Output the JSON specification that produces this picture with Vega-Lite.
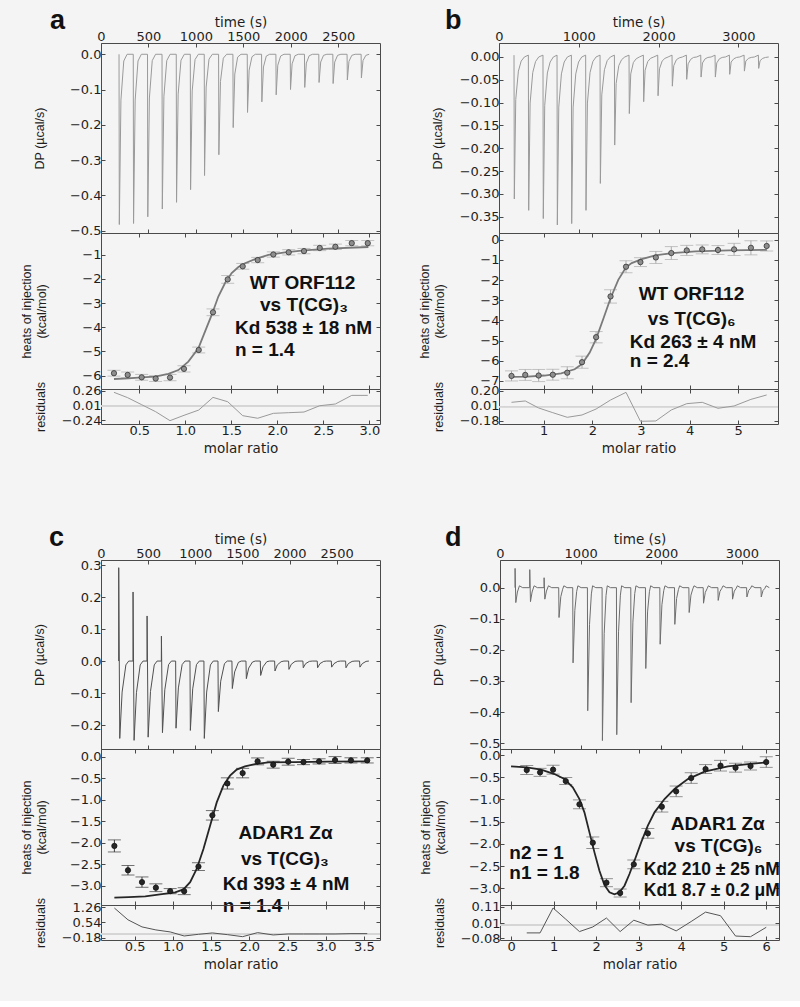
{
"$schema": "https://vega.github.io/schema/vega-lite/v6.json",
"padding": {"left": 19, "top": 6, "right": 19, "bottom": 30},
"background": "#f4f4f4",
"datasets": {
"dpA": [{"t":190,"dp":0},{"t":193,"dp":-0.483},{"t":210,"dp":-0.130},{"t":240,"dp":-0.019},{"t":275,"dp":0},
{"t":340,"dp":0},{"t":343,"dp":-0.480},{"t":360,"dp":-0.130},{"t":390,"dp":-0.019},{"t":425,"dp":0},
{"t":490,"dp":0},{"t":493,"dp":-0.461},{"t":510,"dp":-0.124},{"t":540,"dp":-0.018},{"t":575,"dp":0},
{"t":643,"dp":0},{"t":646,"dp":-0.439},{"t":663,"dp":-0.119},{"t":693,"dp":-0.018},{"t":728,"dp":0},
{"t":793,"dp":0},{"t":796,"dp":-0.420},{"t":813,"dp":-0.113},{"t":843,"dp":-0.017},{"t":878,"dp":0},
{"t":941,"dp":0},{"t":944,"dp":-0.384},{"t":961,"dp":-0.104},{"t":991,"dp":-0.015},{"t":1026,"dp":0},
{"t":1088,"dp":0},{"t":1091,"dp":-0.344},{"t":1108,"dp":-0.093},{"t":1138,"dp":-0.014},{"t":1173,"dp":0},
{"t":1239,"dp":0},{"t":1242,"dp":-0.285},{"t":1259,"dp":-0.077},{"t":1289,"dp":-0.011},{"t":1324,"dp":0},
{"t":1390,"dp":0},{"t":1393,"dp":-0.208},{"t":1410,"dp":-0.056},{"t":1440,"dp":-0.008},{"t":1475,"dp":0},
{"t":1541,"dp":0},{"t":1544,"dp":-0.165},{"t":1561,"dp":-0.045},{"t":1591,"dp":-0.007},{"t":1626,"dp":0},
{"t":1692,"dp":0},{"t":1695,"dp":-0.135},{"t":1712,"dp":-0.036},{"t":1742,"dp":-0.005},{"t":1777,"dp":0},
{"t":1843,"dp":0},{"t":1846,"dp":-0.115},{"t":1863,"dp":-0.031},{"t":1893,"dp":-0.005},{"t":1928,"dp":0},
{"t":1994,"dp":0},{"t":1997,"dp":-0.100},{"t":2014,"dp":-0.027},{"t":2044,"dp":-0.004},{"t":2079,"dp":0},
{"t":2144,"dp":0},{"t":2147,"dp":-0.094},{"t":2164,"dp":-0.025},{"t":2194,"dp":-0.004},{"t":2229,"dp":0},
{"t":2295,"dp":0},{"t":2298,"dp":-0.080},{"t":2315,"dp":-0.022},{"t":2345,"dp":-0.003},{"t":2380,"dp":0},
{"t":2443,"dp":0},{"t":2446,"dp":-0.083},{"t":2463,"dp":-0.022},{"t":2493,"dp":-0.003},{"t":2528,"dp":0},
{"t":2593,"dp":0},{"t":2596,"dp":-0.073},{"t":2613,"dp":-0.020},{"t":2643,"dp":-0.003},{"t":2678,"dp":0},
{"t":2741,"dp":0},{"t":2744,"dp":-0.067},{"t":2761,"dp":-0.018},{"t":2791,"dp":-0.003},{"t":2826,"dp":0}],
"dpB": [{"t":188,"dp":0.004},{"t":192,"dp":-0.311},{"t":210,"dp":-0.093},{"t":243,"dp":-0.031},{"t":278,"dp":-0.009},{"t":318,"dp":0},
{"t":368,"dp":0.004},{"t":372,"dp":-0.336},{"t":390,"dp":-0.101},{"t":423,"dp":-0.034},{"t":458,"dp":-0.010},{"t":498,"dp":0},
{"t":551,"dp":0.004},{"t":555,"dp":-0.354},{"t":573,"dp":-0.106},{"t":606,"dp":-0.035},{"t":641,"dp":-0.011},{"t":681,"dp":0},
{"t":727,"dp":0.004},{"t":731,"dp":-0.368},{"t":749,"dp":-0.110},{"t":782,"dp":-0.037},{"t":817,"dp":-0.011},{"t":857,"dp":0},
{"t":907,"dp":0.004},{"t":911,"dp":-0.365},{"t":929,"dp":-0.110},{"t":962,"dp":-0.037},{"t":997,"dp":-0.011},{"t":1037,"dp":0},
{"t":1086,"dp":0.004},{"t":1090,"dp":-0.336},{"t":1108,"dp":-0.101},{"t":1141,"dp":-0.034},{"t":1176,"dp":-0.010},{"t":1216,"dp":0},
{"t":1266,"dp":0.004},{"t":1270,"dp":-0.277},{"t":1288,"dp":-0.083},{"t":1321,"dp":-0.028},{"t":1356,"dp":-0.008},{"t":1396,"dp":0},
{"t":1446,"dp":0.004},{"t":1450,"dp":-0.193},{"t":1468,"dp":-0.058},{"t":1501,"dp":-0.019},{"t":1536,"dp":-0.006},{"t":1576,"dp":0},
{"t":1629,"dp":0.004},{"t":1633,"dp":-0.124},{"t":1651,"dp":-0.037},{"t":1684,"dp":-0.012},{"t":1719,"dp":-0.004},{"t":1759,"dp":0},
{"t":1809,"dp":0.004},{"t":1813,"dp":-0.098},{"t":1831,"dp":-0.029},{"t":1864,"dp":-0.010},{"t":1899,"dp":-0.003},{"t":1939,"dp":0},
{"t":1989,"dp":0.004},{"t":1993,"dp":-0.085},{"t":2011,"dp":-0.026},{"t":2044,"dp":-0.009},{"t":2079,"dp":-0.003},{"t":2119,"dp":0},
{"t":2168,"dp":0.004},{"t":2172,"dp":-0.064},{"t":2190,"dp":-0.019},{"t":2223,"dp":-0.006},{"t":2258,"dp":-0.002},{"t":2298,"dp":0},
{"t":2348,"dp":0.004},{"t":2352,"dp":-0.049},{"t":2370,"dp":-0.015},{"t":2403,"dp":-0.005},{"t":2438,"dp":-0.001},{"t":2478,"dp":0},
{"t":2528,"dp":0.004},{"t":2532,"dp":-0.044},{"t":2550,"dp":-0.013},{"t":2583,"dp":-0.004},{"t":2618,"dp":-0.001},{"t":2658,"dp":0},
{"t":2707,"dp":0.004},{"t":2711,"dp":-0.044},{"t":2729,"dp":-0.013},{"t":2762,"dp":-0.004},{"t":2797,"dp":-0.001},{"t":2837,"dp":0},
{"t":2887,"dp":0.004},{"t":2891,"dp":-0.038},{"t":2909,"dp":-0.011},{"t":2942,"dp":-0.004},{"t":2977,"dp":-0.001},{"t":3017,"dp":0},
{"t":3071,"dp":0.004},{"t":3075,"dp":-0.031},{"t":3093,"dp":-0.009},{"t":3126,"dp":-0.003},{"t":3161,"dp":-0.001},{"t":3201,"dp":0},
{"t":3250,"dp":0.004},{"t":3254,"dp":-0.025},{"t":3272,"dp":-0.008},{"t":3305,"dp":-0.003},{"t":3340,"dp":-0.001},{"t":3380,"dp":0}],
"dpC": [{"t":187,"dp":0},{"t":188,"dp":0.292},{"t":199,"dp":-0.242},{"t":224,"dp":-0.097},{"t":264,"dp":-0.012},{"t":294,"dp":0},
{"t":339,"dp":0},{"t":340,"dp":0.216},{"t":351,"dp":-0.248},{"t":376,"dp":-0.099},{"t":416,"dp":-0.012},{"t":446,"dp":0},
{"t":488,"dp":0},{"t":489,"dp":0.141},{"t":500,"dp":-0.238},{"t":525,"dp":-0.095},{"t":565,"dp":-0.012},{"t":595,"dp":0},
{"t":640,"dp":0},{"t":641,"dp":0.078},{"t":652,"dp":-0.224},{"t":677,"dp":-0.090},{"t":717,"dp":-0.011},{"t":747,"dp":0},
{"t":792,"dp":0},{"t":796,"dp":-0.210},{"t":821,"dp":-0.084},{"t":861,"dp":-0.011},{"t":891,"dp":0},
{"t":944,"dp":0},{"t":948,"dp":-0.217},{"t":973,"dp":-0.087},{"t":1013,"dp":-0.011},{"t":1043,"dp":0},
{"t":1092,"dp":0},{"t":1096,"dp":-0.242},{"t":1121,"dp":-0.097},{"t":1161,"dp":-0.012},{"t":1191,"dp":0},
{"t":1241,"dp":0},{"t":1245,"dp":-0.158},{"t":1270,"dp":-0.063},{"t":1310,"dp":-0.008},{"t":1340,"dp":0},
{"t":1389,"dp":0},{"t":1393,"dp":-0.086},{"t":1418,"dp":-0.034},{"t":1458,"dp":-0.004},{"t":1488,"dp":0},
{"t":1538,"dp":0},{"t":1542,"dp":-0.055},{"t":1567,"dp":-0.022},{"t":1607,"dp":-0.003},{"t":1637,"dp":0},
{"t":1690,"dp":0},{"t":1694,"dp":-0.045},{"t":1719,"dp":-0.018},{"t":1759,"dp":-0.002},{"t":1789,"dp":0},
{"t":1842,"dp":0},{"t":1846,"dp":-0.031},{"t":1871,"dp":-0.012},{"t":1911,"dp":-0.002},{"t":1941,"dp":0},
{"t":1990,"dp":0},{"t":1994,"dp":-0.026},{"t":2019,"dp":-0.010},{"t":2059,"dp":-0.001},{"t":2089,"dp":0},
{"t":2142,"dp":0},{"t":2146,"dp":-0.021},{"t":2171,"dp":-0.008},{"t":2211,"dp":-0.001},{"t":2241,"dp":0},
{"t":2294,"dp":0},{"t":2298,"dp":-0.021},{"t":2323,"dp":-0.008},{"t":2363,"dp":-0.001},{"t":2393,"dp":0},
{"t":2443,"dp":0},{"t":2447,"dp":-0.019},{"t":2472,"dp":-0.008},{"t":2512,"dp":-0.001},{"t":2542,"dp":0},
{"t":2595,"dp":0},{"t":2599,"dp":-0.021},{"t":2624,"dp":-0.008},{"t":2664,"dp":-0.001},{"t":2694,"dp":0},
{"t":2743,"dp":0},{"t":2747,"dp":-0.019},{"t":2772,"dp":-0.008},{"t":2812,"dp":-0.001},{"t":2842,"dp":0}],
"dpD": [{"t":186,"dp":0},{"t":187,"dp":0.062},{"t":196,"dp":-0.048},{"t":216,"dp":-0.014},{"t":241,"dp":0.006},{"t":281,"dp":0},
{"t":368,"dp":0},{"t":369,"dp":0.058},{"t":378,"dp":-0.045},{"t":398,"dp":-0.014},{"t":423,"dp":0.006},{"t":463,"dp":0},
{"t":546,"dp":0},{"t":547,"dp":0.032},{"t":556,"dp":-0.037},{"t":576,"dp":-0.011},{"t":601,"dp":0.006},{"t":641,"dp":0},
{"t":728,"dp":0},{"t":732,"dp":-0.096},{"t":754,"dp":-0.029},{"t":777,"dp":-0.005},{"t":792,"dp":0.006},{"t":832,"dp":0},
{"t":902,"dp":0},{"t":906,"dp":-0.242},{"t":928,"dp":-0.073},{"t":951,"dp":-0.012},{"t":966,"dp":0.006},{"t":1006,"dp":0},
{"t":1084,"dp":0},{"t":1088,"dp":-0.396},{"t":1110,"dp":-0.119},{"t":1133,"dp":-0.020},{"t":1148,"dp":0.006},{"t":1188,"dp":0},
{"t":1266,"dp":0},{"t":1270,"dp":-0.492},{"t":1292,"dp":-0.148},{"t":1315,"dp":-0.025},{"t":1330,"dp":0.006},{"t":1370,"dp":0},
{"t":1444,"dp":0},{"t":1448,"dp":-0.473},{"t":1470,"dp":-0.142},{"t":1493,"dp":-0.024},{"t":1508,"dp":0.006},{"t":1548,"dp":0},
{"t":1622,"dp":0},{"t":1626,"dp":-0.370},{"t":1648,"dp":-0.111},{"t":1671,"dp":-0.019},{"t":1686,"dp":0.006},{"t":1726,"dp":0},
{"t":1804,"dp":0},{"t":1808,"dp":-0.260},{"t":1830,"dp":-0.078},{"t":1853,"dp":-0.013},{"t":1868,"dp":0.006},{"t":1908,"dp":0},
{"t":1982,"dp":0},{"t":1986,"dp":-0.182},{"t":2008,"dp":-0.055},{"t":2031,"dp":-0.009},{"t":2046,"dp":0.006},{"t":2086,"dp":0},
{"t":2164,"dp":0},{"t":2168,"dp":-0.118},{"t":2190,"dp":-0.035},{"t":2213,"dp":-0.006},{"t":2228,"dp":0.006},{"t":2268,"dp":0},
{"t":2342,"dp":0},{"t":2346,"dp":-0.080},{"t":2368,"dp":-0.024},{"t":2391,"dp":-0.004},{"t":2406,"dp":0.006},{"t":2446,"dp":0},
{"t":2520,"dp":0},{"t":2524,"dp":-0.050},{"t":2546,"dp":-0.015},{"t":2569,"dp":-0.003},{"t":2584,"dp":0.006},{"t":2624,"dp":0},
{"t":2702,"dp":0},{"t":2706,"dp":-0.041},{"t":2728,"dp":-0.012},{"t":2751,"dp":-0.002},{"t":2766,"dp":0.006},{"t":2806,"dp":0},
{"t":2880,"dp":0},{"t":2884,"dp":-0.037},{"t":2906,"dp":-0.011},{"t":2929,"dp":-0.002},{"t":2944,"dp":0.006},{"t":2984,"dp":0},
{"t":3058,"dp":0},{"t":3062,"dp":-0.030},{"t":3084,"dp":-0.009},{"t":3107,"dp":-0.002},{"t":3122,"dp":0.006},{"t":3162,"dp":0},
{"t":3236,"dp":0},{"t":3240,"dp":-0.030},{"t":3262,"dp":-0.009},{"t":3285,"dp":-0.002},{"t":3300,"dp":0.006},{"t":3340,"dp":0}],
"hA": [{"v":0.225,"h":-5.90,"lo":-6.02,"hi":-5.78,"r":0.232},
{"v":0.374,"h":-5.97,"lo":-6.09,"hi":-5.85,"r":0.141},
{"v":0.526,"h":-6.07,"lo":-6.19,"hi":-5.95,"r":0.021},
{"v":0.678,"h":-6.12,"lo":-6.24,"hi":-6.00,"r":-0.098},
{"v":0.834,"h":-6.08,"lo":-6.21,"hi":-5.95,"r":-0.251},
{"v":0.986,"h":-5.72,"lo":-5.85,"hi":-5.59,"r":-0.160},
{"v":1.146,"h":-4.94,"lo":-5.06,"hi":-4.82,"r":-0.070},
{"v":1.301,"h":-3.38,"lo":-3.52,"hi":-3.24,"r":0.146},
{"v":1.461,"h":-2.02,"lo":-2.18,"hi":-1.86,"r":0.072},
{"v":1.624,"h":-1.48,"lo":-1.60,"hi":-1.36,"r":-0.166},
{"v":1.787,"h":-1.22,"lo":-1.33,"hi":-1.11,"r":-0.210},
{"v":1.957,"h":-0.99,"lo":-1.10,"hi":-0.88,"r":-0.126},
{"v":2.124,"h":-0.90,"lo":-1.01,"hi":-0.79,"r":-0.115},
{"v":2.290,"h":-0.85,"lo":-0.96,"hi":-0.74,"r":-0.104},
{"v":2.461,"h":-0.72,"lo":-0.83,"hi":-0.61,"r":0.004},
{"v":2.631,"h":-0.67,"lo":-0.78,"hi":-0.56,"r":0.033},
{"v":2.809,"h":-0.52,"lo":-0.63,"hi":-0.41,"r":0.180},
{"v":2.983,"h":-0.52,"lo":-0.63,"hi":-0.41,"r":0.180}],
"hB": [{"v":0.337,"h":-6.75,"lo":-7.00,"hi":-6.50,"r":0.054},
{"v":0.620,"h":-6.70,"lo":-6.97,"hi":-6.43,"r":0.071},
{"v":0.896,"h":-6.73,"lo":-7.03,"hi":-6.43,"r":-0.017},
{"v":1.187,"h":-6.69,"lo":-6.96,"hi":-6.42,"r":-0.076},
{"v":1.484,"h":-6.59,"lo":-6.89,"hi":-6.29,"r":-0.134},
{"v":1.788,"h":-6.07,"lo":-6.37,"hi":-5.77,"r":-0.105},
{"v":2.078,"h":-4.83,"lo":-5.11,"hi":-4.55,"r":-0.030},
{"v":2.375,"h":-2.81,"lo":-3.14,"hi":-2.48,"r":0.083},
{"v":2.693,"h":-1.34,"lo":-1.64,"hi":-1.04,"r":0.179},
{"v":2.990,"h":-1.11,"lo":-1.33,"hi":-0.89,"r":-0.184},
{"v":3.307,"h":-0.88,"lo":-1.18,"hi":-0.58,"r":-0.180},
{"v":3.625,"h":-0.66,"lo":-0.98,"hi":-0.34,"r":-0.042},
{"v":3.943,"h":-0.53,"lo":-0.78,"hi":-0.28,"r":0.037},
{"v":4.261,"h":-0.48,"lo":-0.70,"hi":-0.26,"r":0.054},
{"v":4.585,"h":-0.51,"lo":-0.73,"hi":-0.29,"r":-0.021},
{"v":4.917,"h":-0.48,"lo":-0.78,"hi":-0.18,"r":0.008},
{"v":5.263,"h":-0.40,"lo":-0.75,"hi":-0.05,"r":0.091},
{"v":5.587,"h":-0.31,"lo":-0.56,"hi":-0.06,"r":0.146}],
"hC": [{"v":0.235,"h":-2.07,"lo":-2.21,"hi":-1.93,"r":1.213},
{"v":0.413,"h":-2.635,"lo":-2.745,"hi":-2.525,"r":0.659},
{"v":0.596,"h":-2.91,"lo":-3.03,"hi":-2.79,"r":0.326},
{"v":0.778,"h":-3.04,"lo":-3.13,"hi":-2.95,"r":0.184},
{"v":0.965,"h":-3.12,"lo":-3.18,"hi":-3.06,"r":0.089},
{"v":1.148,"h":-3.12,"lo":-3.20,"hi":-3.04,"r":-0.101},
{"v":1.335,"h":-2.55,"lo":-2.64,"hi":-2.46,"r":-0.022},
{"v":1.517,"h":-1.36,"lo":-1.47,"hi":-1.25,"r":0.042},
{"v":1.713,"h":-0.62,"lo":-0.75,"hi":-0.49,"r":-0.038},
{"v":1.913,"h":-0.38,"lo":-0.49,"hi":-0.27,"r":-0.133},
{"v":2.109,"h":-0.108,"lo":-0.188,"hi":-0.028,"r":0.057},
{"v":2.313,"h":-0.185,"lo":-0.265,"hi":-0.105,"r":-0.053},
{"v":2.509,"h":-0.116,"lo":-0.196,"hi":-0.036,"r":-0.006},
{"v":2.709,"h":-0.124,"lo":-0.184,"hi":-0.064,"r":-0.006},
{"v":2.913,"h":-0.108,"lo":-0.168,"hi":-0.048,"r":-0.006},
{"v":3.122,"h":-0.077,"lo":-0.157,"hi":0.003,"r":-0.006},
{"v":3.330,"h":-0.085,"lo":-0.145,"hi":-0.025,"r":0.010},
{"v":3.543,"h":-0.085,"lo":-0.145,"hi":-0.025,"r":0.010}],
"hD": [{"v":0.369,"h":-0.338,"lo":-0.438,"hi":-0.238,"r":-0.047},
{"v":0.682,"h":-0.390,"lo":-0.480,"hi":-0.300,"r":-0.047},
{"v":0.988,"h":-0.330,"lo":-0.430,"hi":-0.230,"r":0.104},
{"v":1.286,"h":-0.586,"lo":-0.666,"hi":-0.506,"r":0.036},
{"v":1.608,"h":-1.110,"lo":-1.210,"hi":-1.010,"r":-0.039},
{"v":1.922,"h":-1.975,"lo":-2.105,"hi":-1.845,"r":-0.011},
{"v":2.243,"h":-2.875,"lo":-2.965,"hi":-2.785,"r":0.043},
{"v":2.565,"h":-3.108,"lo":-3.198,"hi":-3.018,"r":-0.039},
{"v":2.886,"h":-2.462,"lo":-2.562,"hi":-2.362,"r":0.030},
{"v":3.216,"h":-1.764,"lo":-1.874,"hi":-1.654,"r":0.000},
{"v":3.545,"h":-1.164,"lo":-1.284,"hi":-1.044,"r":0.006},
{"v":3.882,"h":-0.818,"lo":-0.938,"hi":-0.698,"r":-0.035},
{"v":4.235,"h":-0.518,"lo":-0.638,"hi":-0.398,"r":0.022},
{"v":4.573,"h":-0.315,"lo":-0.415,"hi":-0.215,"r":0.079},
{"v":4.925,"h":-0.240,"lo":-0.360,"hi":-0.120,"r":0.057},
{"v":5.278,"h":-0.285,"lo":-0.385,"hi":-0.185,"r":-0.066},
{"v":5.631,"h":-0.248,"lo":-0.338,"hi":-0.158,"r":-0.070},
{"v":6.000,"h":-0.158,"lo":-0.278,"hi":-0.038,"r":-0.013}],
"fA": [{"v":0.225,"f":-6.14},{"v":0.381,"f":-6.11},{"v":0.526,"f":-6.07},{"v":0.671,"f":-6.04},{"v":0.816,"f":-5.93},{"v":0.925,"f":-5.77},{"v":1.033,"f":-5.42},{"v":1.142,"f":-4.87},{"v":1.214,"f":-4.18},{"v":1.287,"f":-3.49},{"v":1.359,"f":-2.73},{"v":1.432,"f":-2.17},{"v":1.504,"f":-1.76},{"v":1.577,"f":-1.51},{"v":1.649,"f":-1.35},{"v":1.758,"f":-1.18},{"v":1.903,"f":-1.01},{"v":2.084,"f":-0.90},{"v":2.265,"f":-0.83},{"v":2.555,"f":-0.75},{"v":2.990,"f":-0.68}],
"fB": [{"v":0.337,"f":-6.80},{"v":0.668,"f":-6.78},{"v":1.014,"f":-6.73},{"v":1.359,"f":-6.62},{"v":1.636,"f":-6.42},{"v":1.788,"f":-6.16},{"v":1.946,"f":-5.59},{"v":2.078,"f":-4.91},{"v":2.223,"f":-3.94},{"v":2.375,"f":-2.90},{"v":2.534,"f":-1.99},{"v":2.693,"f":-1.37},{"v":2.810,"f":-1.16},{"v":3.017,"f":-0.96},{"v":3.294,"f":-0.78},{"v":3.639,"f":-0.66},{"v":4.123,"f":-0.58},{"v":4.813,"f":-0.53},{"v":5.587,"f":-0.50}],
"fC": [{"v":0.235,"f":-3.27},{"v":0.422,"f":-3.26},{"v":0.639,"f":-3.24},{"v":0.857,"f":-3.19},{"v":1.030,"f":-3.15},{"v":1.139,"f":-3.08},{"v":1.226,"f":-2.91},{"v":1.313,"f":-2.60},{"v":1.400,"f":-2.14},{"v":1.487,"f":-1.60},{"v":1.574,"f":-1.06},{"v":1.661,"f":-0.67},{"v":1.748,"f":-0.44},{"v":1.835,"f":-0.30},{"v":1.943,"f":-0.224},{"v":2.074,"f":-0.17},{"v":2.248,"f":-0.131},{"v":2.596,"f":-0.124},{"v":3.030,"f":-0.116},{"v":3.543,"f":-0.108}],
"fD": [{"v":0.000,"f":-0.255},{"v":0.369,"f":-0.278},{"v":0.706,"f":-0.330},{"v":1.020,"f":-0.428},{"v":1.255,"f":-0.540},{"v":1.451,"f":-0.728},{"v":1.608,"f":-0.991},{"v":1.725,"f":-1.291},{"v":1.843,"f":-1.742},{"v":1.961,"f":-2.192},{"v":2.078,"f":-2.605},{"v":2.196,"f":-2.928},{"v":2.314,"f":-3.093},{"v":2.431,"f":-3.138},{"v":2.549,"f":-3.093},{"v":2.667,"f":-2.943},{"v":2.784,"f":-2.680},{"v":2.902,"f":-2.380},{"v":3.059,"f":-1.967},{"v":3.216,"f":-1.592},{"v":3.373,"f":-1.291},{"v":3.608,"f":-0.991},{"v":3.843,"f":-0.766},{"v":4.157,"f":-0.541},{"v":4.549,"f":-0.375},{"v":5.098,"f":-0.255},{"v":5.569,"f":-0.203},{"v":6.000,"f":-0.165}]
},
"vconcat": [
{"hconcat": [
{"vconcat": [
{"width": 279, "height": 190,
 "title": {"text": "a", "dx": -51, "dy": 45, "baseline": "alphabetic"},
 "data": {"name": "dpA"},
 "layer": [
  {"mark": {"type": "line", "color": "#9a9a9a", "strokeWidth": 1},
   "encoding": {
    "x": {"field": "t", "type": "quantitative", "scale": {"domain": [0, 2940], "nice": false, "zero": false}, "axis": {"orient": "top", "title": "time (s)", "values": [0, 500, 1000, 1500, 2000, 2500], "format": "d", "titlePadding": 1}},
    "y": {"field": "dp", "type": "quantitative", "scale": {"domain": [-0.507, 0.032], "nice": false, "zero": false}, "axis": {"orient": "left", "title": "DP (µcal/s)", "values": [-0.5, -0.4, -0.3, -0.2, -0.1, 0], "format": ".1f", "titlePadding": 23}}}},
  {"mark": {"type": "line", "opacity": 0},
   "encoding": {
    "x": {"field": "t", "type": "quantitative", "scale": {"domain": [0, 2940], "nice": false, "zero": false}, "axis": {"orient": "bottom", "labels": false, "title": null, "values": [0, 500, 1000, 1500, 2000, 2500]}},
    "y": {"field": "dp", "type": "quantitative", "scale": {"domain": [-0.507, 0.032], "nice": false, "zero": false}, "axis": {"orient": "right", "labels": false, "title": null, "values": [-0.5, -0.4, -0.3, -0.2, -0.1, 0]}}}}
 ],
 "resolve": {"axis": {"x": "independent", "y": "independent"}}},
{"width": 279, "height": 156,
 "data": {"name": "hA"},
 "layer": [
  {"mark": {"type": "rule", "color": "#ababab", "strokeWidth": 1},
   "encoding": {
    "x": {"field": "v", "type": "quantitative", "scale": {"domain": [0.084, 3.116], "nice": false, "zero": false}, "axis": {"orient": "bottom", "labels": false, "title": null, "values": [0.5, 1, 1.5, 2, 2.5, 3]}},
    "y": {"field": "lo", "type": "quantitative", "scale": {"domain": [-6.553, -0.101], "nice": false, "zero": false}, "axis": {"orient": "left", "title": ["heats of injection", "(kcal/mol)"], "values": [-6, -5, -4, -3, -2, -1], "titlePadding": 33}},
    "y2": {"field": "hi"}}},
  {"mark": {"type": "tick", "orient": "horizontal", "color": "#ababab", "size": 13, "thickness": 1},
   "encoding": {
    "x": {"field": "v", "type": "quantitative", "scale": {"domain": [0.084, 3.116], "nice": false, "zero": false}, "axis": {"orient": "top", "labels": false, "title": null, "values": [0.5, 1, 1.5, 2, 2.5, 3]}},
    "y": {"field": "lo", "type": "quantitative", "scale": {"domain": [-6.553, -0.101], "nice": false, "zero": false}, "axis": {"orient": "right", "labels": false, "title": null, "values": [-6, -5, -4, -3, -2, -1]}}}},
  {"mark": {"type": "tick", "orient": "horizontal", "color": "#ababab", "size": 13, "thickness": 1},
   "encoding": {
    "x": {"field": "v", "type": "quantitative", "scale": {"domain": [0.084, 3.116], "nice": false, "zero": false}, "axis": null},
    "y": {"field": "hi", "type": "quantitative", "scale": {"domain": [-6.553, -0.101], "nice": false, "zero": false}, "axis": null}}},
  {"data": {"name": "fA"}, "mark": {"type": "line", "color": "#7a7a7a", "strokeWidth": 1.8},
   "encoding": {
    "x": {"field": "v", "type": "quantitative", "scale": {"domain": [0.084, 3.116], "nice": false, "zero": false}, "axis": null},
    "y": {"field": "f", "type": "quantitative", "scale": {"domain": [-6.553, -0.101], "nice": false, "zero": false}, "axis": null}}},
  {"mark": {"type": "circle", "size": 28, "fill": "#8e8e8e", "stroke": "#333333", "strokeWidth": 0.8, "opacity": 1},
   "encoding": {
    "x": {"field": "v", "type": "quantitative", "scale": {"domain": [0.084, 3.116], "nice": false, "zero": false}, "axis": null},
    "y": {"field": "h", "type": "quantitative", "scale": {"domain": [-6.553, -0.101], "nice": false, "zero": false}, "axis": null}}},
  {"data": {"values": [{"label": "WT ORF112", "x": 2.274, "y": -2.409}, {"label": "vs T(CG)₃", "x": 2.29, "y": -3.32}]},
   "mark": {"type": "text", "align": "center"},
   "encoding": {
    "x": {"field": "x", "type": "quantitative", "scale": {"domain": [0.084, 3.116], "nice": false, "zero": false}, "axis": null},
    "y": {"field": "y", "type": "quantitative", "scale": {"domain": [-6.553, -0.101], "nice": false, "zero": false}, "axis": null},
    "text": {"field": "label"}}},
  {"data": {"values": [{"label": "Kd 538 ± 18 nM", "x": 1.54, "y": -4.286}, {"label": "n = 1.4", "x": 1.54, "y": -5.186}]},
   "mark": {"type": "text", "align": "left"},
   "encoding": {
    "x": {"field": "x", "type": "quantitative", "scale": {"domain": [0.084, 3.116], "nice": false, "zero": false}, "axis": null},
    "y": {"field": "y", "type": "quantitative", "scale": {"domain": [-6.553, -0.101], "nice": false, "zero": false}, "axis": null},
    "text": {"field": "label"}}}
 ],
 "resolve": {"axis": {"x": "independent", "y": "independent"}}},
{"width": 279, "height": 35,
 "data": {"name": "hA"},
 "layer": [
  {"mark": {"type": "rule", "color": "#d5d5d5", "strokeWidth": 1},
   "encoding": {"y": {"datum": 0, "type": "quantitative", "scale": {"domain": [-0.308, 0.289], "nice": false, "zero": false}, "axis": {"orient": "right", "labels": false, "title": null, "values": [-0.24, 0.01, 0.26]}}}},
  {"mark": {"type": "line", "color": "#9a9a9a", "strokeWidth": 1},
   "encoding": {
    "x": {"field": "v", "type": "quantitative", "scale": {"domain": [0.084, 3.116], "nice": false, "zero": false}, "axis": {"orient": "bottom", "title": "molar ratio", "values": [0.5, 1, 1.5, 2, 2.5, 3], "format": ".1f", "titlePadding": 4}},
    "y": {"field": "r", "type": "quantitative", "scale": {"domain": [-0.308, 0.289], "nice": false, "zero": false}, "axis": {"orient": "left", "title": "residuals", "values": [-0.24, 0.01, 0.26], "format": ".2f", "titlePadding": 14}}}},
  {"mark": {"type": "line", "opacity": 0},
   "encoding": {
    "x": {"field": "v", "type": "quantitative", "scale": {"domain": [0.084, 3.116], "nice": false, "zero": false}, "axis": {"orient": "top", "labels": false, "title": null, "values": [0.5, 1, 1.5, 2, 2.5, 3]}},
    "y": {"field": "r", "type": "quantitative", "scale": {"domain": [-0.308, 0.289], "nice": false, "zero": false}, "axis": null}}}
 ],
 "resolve": {"axis": {"x": "independent", "y": "independent"}}}
], "spacing": 0, "bounds": "flush"},
{"vconcat": [
{"width": 279, "height": 190,
 "title": {"text": "b", "dx": -54, "dy": 45, "baseline": "alphabetic"},
 "data": {"name": "dpB"},
 "layer": [
  {"mark": {"type": "line", "color": "#9a9a9a", "strokeWidth": 1},
   "encoding": {
    "x": {"field": "t", "type": "quantitative", "scale": {"domain": [0, 3496], "nice": false, "zero": false}, "axis": {"orient": "top", "title": "time (s)", "values": [0, 1000, 2000, 3000], "format": "d", "titlePadding": 1}},
    "y": {"field": "dp", "type": "quantitative", "scale": {"domain": [-0.3856, 0.0306], "nice": false, "zero": false}, "axis": {"orient": "left", "title": "DP (µcal/s)", "values": [-0.35, -0.3, -0.25, -0.2, -0.15, -0.1, -0.05, 0], "format": ".2f", "titlePadding": 15}}}},
  {"mark": {"type": "line", "opacity": 0},
   "encoding": {
    "x": {"field": "t", "type": "quantitative", "scale": {"domain": [0, 3496], "nice": false, "zero": false}, "axis": {"orient": "bottom", "labels": false, "title": null, "values": [0, 1000, 2000, 3000]}},
    "y": {"field": "dp", "type": "quantitative", "scale": {"domain": [-0.3856, 0.0306], "nice": false, "zero": false}, "axis": {"orient": "right", "labels": false, "title": null, "values": [-0.35, -0.3, -0.25, -0.2, -0.15, -0.1, -0.05, 0]}}}}
 ],
 "resolve": {"axis": {"x": "independent", "y": "independent"}}},
{"width": 279, "height": 156,
 "data": {"name": "hB"},
 "layer": [
  {"mark": {"type": "rule", "color": "#ababab", "strokeWidth": 1},
   "encoding": {
    "x": {"field": "v", "type": "quantitative", "scale": {"domain": [0.08, 5.82], "nice": false, "zero": false}, "axis": {"orient": "bottom", "labels": false, "title": null, "values": [1, 2, 3, 4, 5]}},
    "y": {"field": "lo", "type": "quantitative", "scale": {"domain": [-7.398, 0.333], "nice": false, "zero": false}, "axis": {"orient": "left", "title": ["heats of injection", "(kcal/mol)"], "values": [-7, -6, -5, -4, -3, -2, -1, 0], "titlePadding": 33}},
    "y2": {"field": "hi"}}},
  {"mark": {"type": "tick", "orient": "horizontal", "color": "#ababab", "size": 13, "thickness": 1},
   "encoding": {
    "x": {"field": "v", "type": "quantitative", "scale": {"domain": [0.08, 5.82], "nice": false, "zero": false}, "axis": {"orient": "top", "labels": false, "title": null, "values": [1, 2, 3, 4, 5]}},
    "y": {"field": "lo", "type": "quantitative", "scale": {"domain": [-7.398, 0.333], "nice": false, "zero": false}, "axis": {"orient": "right", "labels": false, "title": null, "values": [-7, -6, -5, -4, -3, -2, -1, 0]}}}},
  {"mark": {"type": "tick", "orient": "horizontal", "color": "#ababab", "size": 13, "thickness": 1},
   "encoding": {
    "x": {"field": "v", "type": "quantitative", "scale": {"domain": [0.08, 5.82], "nice": false, "zero": false}, "axis": null},
    "y": {"field": "hi", "type": "quantitative", "scale": {"domain": [-7.398, 0.333], "nice": false, "zero": false}, "axis": null}}},
  {"data": {"name": "fB"}, "mark": {"type": "line", "color": "#7a7a7a", "strokeWidth": 1.8},
   "encoding": {
    "x": {"field": "v", "type": "quantitative", "scale": {"domain": [0.08, 5.82], "nice": false, "zero": false}, "axis": null},
    "y": {"field": "f", "type": "quantitative", "scale": {"domain": [-7.398, 0.333], "nice": false, "zero": false}, "axis": null}}},
  {"mark": {"type": "circle", "size": 28, "fill": "#8e8e8e", "stroke": "#333333", "strokeWidth": 0.8, "opacity": 1},
   "encoding": {
    "x": {"field": "v", "type": "quantitative", "scale": {"domain": [0.08, 5.82], "nice": false, "zero": false}, "axis": null},
    "y": {"field": "h", "type": "quantitative", "scale": {"domain": [-7.398, 0.333], "nice": false, "zero": false}, "axis": null}}},
  {"data": {"values": [{"label": "WT ORF112", "x": 4.039, "y": -2.979}, {"label": "vs T(CG)₆", "x": 4.045, "y": -4.22}]},
   "mark": {"type": "text", "align": "center"},
   "encoding": {
    "x": {"field": "x", "type": "quantitative", "scale": {"domain": [0.08, 5.82], "nice": false, "zero": false}, "axis": null},
    "y": {"field": "y", "type": "quantitative", "scale": {"domain": [-7.398, 0.333], "nice": false, "zero": false}, "axis": null},
    "text": {"field": "label"}}},
  {"data": {"values": [{"label": "Kd 263 ± 4 nM", "x": 2.77, "y": -5.377}, {"label": "n = 2.4", "x": 2.77, "y": -6.291}]},
   "mark": {"type": "text", "align": "left"},
   "encoding": {
    "x": {"field": "x", "type": "quantitative", "scale": {"domain": [0.08, 5.82], "nice": false, "zero": false}, "axis": null},
    "y": {"field": "y", "type": "quantitative", "scale": {"domain": [-7.398, 0.333], "nice": false, "zero": false}, "axis": null},
    "text": {"field": "label"}}}
 ],
 "resolve": {"axis": {"x": "independent", "y": "independent"}}},
{"width": 279, "height": 35,
 "data": {"name": "hB"},
 "layer": [
  {"mark": {"type": "rule", "color": "#d5d5d5", "strokeWidth": 1},
   "encoding": {"y": {"datum": 0, "type": "quantitative", "scale": {"domain": [-0.218, 0.221], "nice": false, "zero": false}, "axis": {"orient": "right", "labels": false, "title": null, "values": [-0.18, 0.01, 0.2]}}}},
  {"mark": {"type": "line", "color": "#9a9a9a", "strokeWidth": 1},
   "encoding": {
    "x": {"field": "v", "type": "quantitative", "scale": {"domain": [0.08, 5.82], "nice": false, "zero": false}, "axis": {"orient": "bottom", "title": "molar ratio", "values": [1, 2, 3, 4, 5], "format": "d", "titlePadding": 4}},
    "y": {"field": "r", "type": "quantitative", "scale": {"domain": [-0.218, 0.221], "nice": false, "zero": false}, "axis": {"orient": "left", "title": "residuals", "values": [-0.18, 0.01, 0.2], "format": ".2f", "titlePadding": 14}}}},
  {"mark": {"type": "line", "opacity": 0},
   "encoding": {
    "x": {"field": "v", "type": "quantitative", "scale": {"domain": [0.08, 5.82], "nice": false, "zero": false}, "axis": {"orient": "top", "labels": false, "title": null, "values": [1, 2, 3, 4, 5]}},
    "y": {"field": "r", "type": "quantitative", "scale": {"domain": [-0.218, 0.221], "nice": false, "zero": false}, "axis": null}}}
 ],
 "resolve": {"axis": {"x": "independent", "y": "independent"}}}
], "spacing": 0, "bounds": "flush"}
], "spacing": 37},
{"hconcat": [
{"vconcat": [
{"width": 279, "height": 189,
 "title": {"text": "c", "dx": -52, "dy": 45, "baseline": "alphabetic"},
 "data": {"name": "dpC"},
 "layer": [
  {"mark": {"type": "line", "color": "#505050", "strokeWidth": 1},
   "encoding": {
    "x": {"field": "t", "type": "quantitative", "scale": {"domain": [0, 2960], "nice": false, "zero": false}, "axis": {"orient": "top", "title": "time (s)", "values": [0, 500, 1000, 1500, 2000, 2500], "format": "d", "titlePadding": 1}},
    "y": {"field": "dp", "type": "quantitative", "scale": {"domain": [-0.275, 0.316], "nice": false, "zero": false}, "axis": {"orient": "left", "title": "DP (µcal/s)", "values": [-0.2, -0.1, 0, 0.1, 0.2, 0.3], "format": ".1f", "titlePadding": 23}}}},
  {"mark": {"type": "line", "opacity": 0},
   "encoding": {
    "x": {"field": "t", "type": "quantitative", "scale": {"domain": [0, 2960], "nice": false, "zero": false}, "axis": {"orient": "bottom", "labels": false, "title": null, "values": [0, 500, 1000, 1500, 2000, 2500]}},
    "y": {"field": "dp", "type": "quantitative", "scale": {"domain": [-0.275, 0.316], "nice": false, "zero": false}, "axis": {"orient": "right", "labels": false, "title": null, "values": [-0.2, -0.1, 0, 0.1, 0.2, 0.3]}}}}
 ],
 "resolve": {"axis": {"x": "independent", "y": "independent"}}},
{"width": 279, "height": 156,
 "data": {"name": "hC"},
 "layer": [
  {"mark": {"type": "rule", "color": "#3a3a3a", "strokeWidth": 1},
   "encoding": {
    "x": {"field": "v", "type": "quantitative", "scale": {"domain": [0.06, 3.71], "nice": false, "zero": false}, "axis": {"orient": "bottom", "labels": false, "title": null, "values": [0.5, 1, 1.5, 2, 2.5, 3, 3.5]}},
    "y": {"field": "lo", "type": "quantitative", "scale": {"domain": [-3.441, 0.179], "nice": false, "zero": false}, "axis": {"orient": "left", "title": ["heats of injection", "(kcal/mol)"], "values": [-3, -2.5, -2, -1.5, -1, -0.5, 0], "format": ".1f", "titlePadding": 21}},
    "y2": {"field": "hi"}}},
  {"mark": {"type": "tick", "orient": "horizontal", "color": "#3a3a3a", "size": 13, "thickness": 1},
   "encoding": {
    "x": {"field": "v", "type": "quantitative", "scale": {"domain": [0.06, 3.71], "nice": false, "zero": false}, "axis": {"orient": "top", "labels": false, "title": null, "values": [0.5, 1, 1.5, 2, 2.5, 3, 3.5]}},
    "y": {"field": "lo", "type": "quantitative", "scale": {"domain": [-3.441, 0.179], "nice": false, "zero": false}, "axis": {"orient": "right", "labels": false, "title": null, "values": [-3, -2.5, -2, -1.5, -1, -0.5, 0]}}}},
  {"mark": {"type": "tick", "orient": "horizontal", "color": "#3a3a3a", "size": 13, "thickness": 1},
   "encoding": {
    "x": {"field": "v", "type": "quantitative", "scale": {"domain": [0.06, 3.71], "nice": false, "zero": false}, "axis": null},
    "y": {"field": "hi", "type": "quantitative", "scale": {"domain": [-3.441, 0.179], "nice": false, "zero": false}, "axis": null}}},
  {"data": {"name": "fC"}, "mark": {"type": "line", "color": "#262626", "strokeWidth": 1.8},
   "encoding": {
    "x": {"field": "v", "type": "quantitative", "scale": {"domain": [0.06, 3.71], "nice": false, "zero": false}, "axis": null},
    "y": {"field": "f", "type": "quantitative", "scale": {"domain": [-3.441, 0.179], "nice": false, "zero": false}, "axis": null}}},
  {"mark": {"type": "circle", "size": 28, "fill": "#262626", "stroke": "#111111", "strokeWidth": 0.8, "opacity": 1},
   "encoding": {
    "x": {"field": "v", "type": "quantitative", "scale": {"domain": [0.06, 3.71], "nice": false, "zero": false}, "axis": null},
    "y": {"field": "h", "type": "quantitative", "scale": {"domain": [-3.441, 0.179], "nice": false, "zero": false}, "axis": null}}},
  {"data": {"values": [{"label": "ADAR1 Zα", "x": 2.475, "y": -1.908}, {"label": "vs T(CG)₃", "x": 2.466, "y": -2.504}]},
   "mark": {"type": "text", "align": "center"},
   "encoding": {
    "x": {"field": "x", "type": "quantitative", "scale": {"domain": [0.06, 3.71], "nice": false, "zero": false}, "axis": null},
    "y": {"field": "y", "type": "quantitative", "scale": {"domain": [-3.441, 0.179], "nice": false, "zero": false}, "axis": null},
    "text": {"field": "label"}}},
  {"data": {"values": [{"label": "Kd 393 ± 4 nM", "x": 1.653, "y": -3.091}, {"label": "n = 1.4", "x": 1.653, "y": -3.61}]},
   "mark": {"type": "text", "align": "left"},
   "encoding": {
    "x": {"field": "x", "type": "quantitative", "scale": {"domain": [0.06, 3.71], "nice": false, "zero": false}, "axis": null},
    "y": {"field": "y", "type": "quantitative", "scale": {"domain": [-3.441, 0.179], "nice": false, "zero": false}, "axis": null},
    "text": {"field": "label"}}}
 ],
 "resolve": {"axis": {"x": "independent", "y": "independent"}}},
{"width": 279, "height": 35,
 "data": {"name": "hC"},
 "layer": [
  {"mark": {"type": "rule", "color": "#d5d5d5", "strokeWidth": 1},
   "encoding": {"y": {"datum": 0, "type": "quantitative", "scale": {"domain": [-0.29, 1.355], "nice": false, "zero": false}, "axis": {"orient": "right", "labels": false, "title": null, "values": [-0.18, 0.54, 1.26]}}}},
  {"mark": {"type": "line", "color": "#555555", "strokeWidth": 1},
   "encoding": {
    "x": {"field": "v", "type": "quantitative", "scale": {"domain": [0.06, 3.71], "nice": false, "zero": false}, "axis": {"orient": "bottom", "title": "molar ratio", "values": [0.5, 1, 1.5, 2, 2.5, 3, 3.5], "format": ".1f", "titlePadding": 4}},
    "y": {"field": "r", "type": "quantitative", "scale": {"domain": [-0.29, 1.355], "nice": false, "zero": false}, "axis": {"orient": "left", "title": "residuals", "values": [-0.18, 0.54, 1.26], "format": ".2f", "titlePadding": 14}}}},
  {"mark": {"type": "line", "opacity": 0},
   "encoding": {
    "x": {"field": "v", "type": "quantitative", "scale": {"domain": [0.06, 3.71], "nice": false, "zero": false}, "axis": {"orient": "top", "labels": false, "title": null, "values": [0.5, 1, 1.5, 2, 2.5, 3, 3.5]}},
    "y": {"field": "r", "type": "quantitative", "scale": {"domain": [-0.29, 1.355], "nice": false, "zero": false}, "axis": null}}}
 ],
 "resolve": {"axis": {"x": "independent", "y": "independent"}}}
], "spacing": 0, "bounds": "flush"},
{"vconcat": [
{"width": 279, "height": 189,
 "title": {"text": "d", "dx": -55, "dy": 45, "baseline": "alphabetic"},
 "data": {"name": "dpD"},
 "layer": [
  {"mark": {"type": "line", "color": "#6e6e6e", "strokeWidth": 1},
   "encoding": {
    "x": {"field": "t", "type": "quantitative", "scale": {"domain": [0, 3460], "nice": false, "zero": false}, "axis": {"orient": "top", "title": "time (s)", "values": [0, 1000, 2000, 3000], "format": "d", "titlePadding": 1}},
    "y": {"field": "dp", "type": "quantitative", "scale": {"domain": [-0.519, 0.089], "nice": false, "zero": false}, "axis": {"orient": "left", "title": "DP (µcal/s)", "values": [-0.5, -0.4, -0.3, -0.2, -0.1, 0], "format": ".1f", "titlePadding": 23}}}},
  {"mark": {"type": "line", "opacity": 0},
   "encoding": {
    "x": {"field": "t", "type": "quantitative", "scale": {"domain": [0, 3460], "nice": false, "zero": false}, "axis": {"orient": "bottom", "labels": false, "title": null, "values": [0, 1000, 2000, 3000]}},
    "y": {"field": "dp", "type": "quantitative", "scale": {"domain": [-0.519, 0.089], "nice": false, "zero": false}, "axis": {"orient": "right", "labels": false, "title": null, "values": [-0.5, -0.4, -0.3, -0.2, -0.1, 0]}}}}
 ],
 "resolve": {"axis": {"x": "independent", "y": "independent"}}},
{"width": 279, "height": 156,
 "data": {"name": "hD"},
 "layer": [
  {"mark": {"type": "rule", "color": "#6a6a6a", "strokeWidth": 1},
   "encoding": {
    "x": {"field": "v", "type": "quantitative", "scale": {"domain": [-0.26, 6.3], "nice": false, "zero": false}, "axis": {"orient": "bottom", "labels": false, "title": null, "values": [0, 1, 2, 3, 4, 5, 6]}},
    "y": {"field": "lo", "type": "quantitative", "scale": {"domain": [-3.378, 0.136], "nice": false, "zero": false}, "axis": {"orient": "left", "title": ["heats of injection", "(kcal/mol)"], "values": [-3, -2.5, -2, -1.5, -1, -0.5, 0], "format": ".1f", "titlePadding": 21}},
    "y2": {"field": "hi"}}},
  {"mark": {"type": "tick", "orient": "horizontal", "color": "#6a6a6a", "size": 13, "thickness": 1},
   "encoding": {
    "x": {"field": "v", "type": "quantitative", "scale": {"domain": [-0.26, 6.3], "nice": false, "zero": false}, "axis": {"orient": "top", "labels": false, "title": null, "values": [0, 1, 2, 3, 4, 5, 6]}},
    "y": {"field": "lo", "type": "quantitative", "scale": {"domain": [-3.378, 0.136], "nice": false, "zero": false}, "axis": {"orient": "right", "labels": false, "title": null, "values": [-3, -2.5, -2, -1.5, -1, -0.5, 0]}}}},
  {"mark": {"type": "tick", "orient": "horizontal", "color": "#6a6a6a", "size": 13, "thickness": 1},
   "encoding": {
    "x": {"field": "v", "type": "quantitative", "scale": {"domain": [-0.26, 6.3], "nice": false, "zero": false}, "axis": null},
    "y": {"field": "hi", "type": "quantitative", "scale": {"domain": [-3.378, 0.136], "nice": false, "zero": false}, "axis": null}}},
  {"data": {"name": "fD"}, "mark": {"type": "line", "color": "#262626", "strokeWidth": 1.8},
   "encoding": {
    "x": {"field": "v", "type": "quantitative", "scale": {"domain": [-0.26, 6.3], "nice": false, "zero": false}, "axis": null},
    "y": {"field": "f", "type": "quantitative", "scale": {"domain": [-3.378, 0.136], "nice": false, "zero": false}, "axis": null}}},
  {"mark": {"type": "circle", "size": 28, "fill": "#262626", "stroke": "#111111", "strokeWidth": 0.8, "opacity": 1},
   "encoding": {
    "x": {"field": "v", "type": "quantitative", "scale": {"domain": [-0.26, 6.3], "nice": false, "zero": false}, "axis": null},
    "y": {"field": "h", "type": "quantitative", "scale": {"domain": [-3.378, 0.136], "nice": false, "zero": false}, "axis": null}}},
  {"data": {"values": [{"label": "ADAR1 Zα", "x": 4.861, "y": -1.682}, {"label": "vs T(CG)₆", "x": 4.878, "y": -2.193}]},
   "mark": {"type": "text", "align": "center"},
   "encoding": {
    "x": {"field": "x", "type": "quantitative", "scale": {"domain": [-0.26, 6.3], "nice": false, "zero": false}, "axis": null},
    "y": {"field": "y", "type": "quantitative", "scale": {"domain": [-3.378, 0.136], "nice": false, "zero": false}, "axis": null},
    "text": {"field": "label"}}},
  {"data": {"values": [{"label": "Kd2 210 ± 25 nM", "x": 3.12, "y": -2.702}, {"label": "Kd1 8.7 ± 0.2 μM", "x": 3.12, "y": -3.184}]},
   "mark": {"type": "text", "align": "left", "fontSize": 17.5},
   "encoding": {
    "x": {"field": "x", "type": "quantitative", "scale": {"domain": [-0.26, 6.3], "nice": false, "zero": false}, "axis": null},
    "y": {"field": "y", "type": "quantitative", "scale": {"domain": [-3.378, 0.136], "nice": false, "zero": false}, "axis": null},
    "text": {"field": "label"}}},
  {"data": {"values": [{"label": "n2 = 1", "x": -0.04, "y": -2.342}, {"label": "n1 = 1.8", "x": -0.04, "y": -2.792}]},
   "mark": {"type": "text", "align": "left"},
   "encoding": {
    "x": {"field": "x", "type": "quantitative", "scale": {"domain": [-0.26, 6.3], "nice": false, "zero": false}, "axis": null},
    "y": {"field": "y", "type": "quantitative", "scale": {"domain": [-3.378, 0.136], "nice": false, "zero": false}, "axis": null},
    "text": {"field": "label"}}}
 ],
 "resolve": {"axis": {"x": "independent", "y": "independent"}}},
{"width": 279, "height": 35,
 "data": {"name": "hD"},
 "layer": [
  {"mark": {"type": "rule", "color": "#d5d5d5", "strokeWidth": 1},
   "encoding": {"y": {"datum": 0, "type": "quantitative", "scale": {"domain": [-0.09, 0.122], "nice": false, "zero": false}, "axis": {"orient": "right", "labels": false, "title": null, "values": [-0.08, 0.01, 0.11]}}}},
  {"mark": {"type": "line", "color": "#555555", "strokeWidth": 1},
   "encoding": {
    "x": {"field": "v", "type": "quantitative", "scale": {"domain": [-0.26, 6.3], "nice": false, "zero": false}, "axis": {"orient": "bottom", "title": "molar ratio", "values": [0, 1, 2, 3, 4, 5, 6], "format": "d", "titlePadding": 4}},
    "y": {"field": "r", "type": "quantitative", "scale": {"domain": [-0.09, 0.122], "nice": false, "zero": false}, "axis": {"orient": "left", "title": "residuals", "values": [-0.08, 0.01, 0.11], "format": ".2f", "titlePadding": 14}}}},
  {"mark": {"type": "line", "opacity": 0},
   "encoding": {
    "x": {"field": "v", "type": "quantitative", "scale": {"domain": [-0.26, 6.3], "nice": false, "zero": false}, "axis": {"orient": "top", "labels": false, "title": null, "values": [0, 1, 2, 3, 4, 5, 6]}},
    "y": {"field": "r", "type": "quantitative", "scale": {"domain": [-0.09, 0.122], "nice": false, "zero": false}, "axis": null}}}
 ],
 "resolve": {"axis": {"x": "independent", "y": "independent"}}}
], "spacing": 0, "bounds": "flush"}
], "spacing": 37}
],
"spacing": 68,
"config": {
 "view": {"stroke": "#4a4a4a", "strokeWidth": 1, "fill": null},
 "axis": {"grid": false, "domain": false, "ticks": true, "tickSize": -4, "tickColor": "#4a4a4a", "tickWidth": 1,
  "labelFont": "DejaVu Sans", "labelFontSize": 13, "labelColor": "#1e1e1e", "labelPadding": 4,
  "labelOverlap": false, "labelFlush": false, "labelBound": false,
  "titleFont": "DejaVu Sans", "titleFontSize": 13.5, "titleFontWeight": "normal", "titleColor": "#1e1e1e"},
 "axisLeft": {"titleFont": "Liberation Sans", "titleFontSize": 12.5, "titleLineHeight": 15},
 "title": {"font": "Liberation Sans", "fontSize": 27, "fontWeight": "bold", "color": "#111111", "anchor": "start", "frame": "group"},
 "text": {"font": "Liberation Sans", "fontSize": 19, "fontWeight": "bold", "color": "#111111", "baseline": "alphabetic"}
}
}
